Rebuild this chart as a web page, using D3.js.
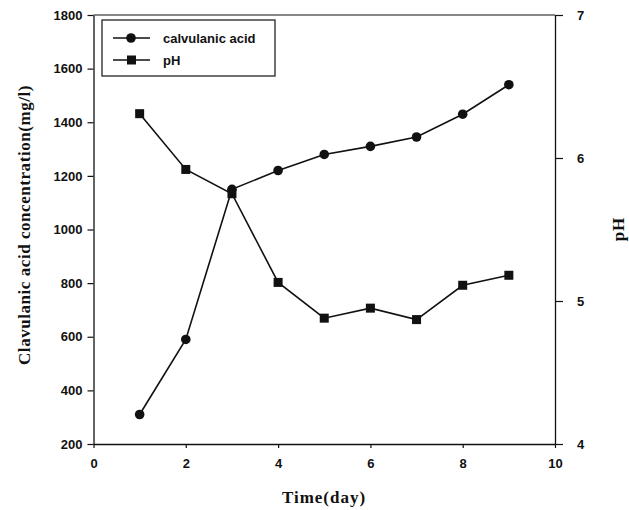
<!DOCTYPE html>
<html>
<head>
<meta charset="utf-8">
<script src="https://cdn.jsdelivr.net/npm/d3@7"></script>
<style>
  body { margin: 0; background: #fff; }
  .tick text { font-family: "Liberation Sans", Arial, sans-serif; font-size: 13px; font-weight: bold; fill: #111; }
  .title { font-family: "Liberation Serif", "Times New Roman", serif; font-size: 17px; font-weight: bold; fill: #111; letter-spacing: 1px; }
  .leg { font-family: "Liberation Sans", Arial, sans-serif; font-size: 13px; font-weight: bold; fill: #111; }
</style>
</head>
<body>
<svg width="629" height="510"></svg>
<script>
var days = [1, 2, 3, 4, 5, 6, 7, 8, 9];
var acid = [310, 590, 1150, 1220, 1280, 1310, 1345, 1430, 1540];
var pH = [6.31, 5.92, 5.75, 5.13, 4.88, 4.95, 4.87, 5.11, 5.18];
var xTicks = [0, 2, 4, 6, 8, 10];
var acidTicks = [200, 400, 600, 800, 1000, 1200, 1400, 1600, 1800];
var pHTicks = [4, 5, 6, 7];

var svg = d3.select("svg");

var x = d3.scaleLinear().domain([0, 10]).range([93.5, 555]);
var yL = d3.scaleLinear().domain([200, 1800]).range([444, 15]);
var yR = d3.scaleLinear().domain([4, 7]).range([444, 15]);

// frame top line
svg.append("line")
  .attr("x1", x(0)).attr("x2", x(10))
  .attr("y1", yL(1800)).attr("y2", yL(1800))
  .attr("stroke", "#111").attr("stroke-width", 1.2);

var xAxis = svg.append("g")
  .attr("transform", "translate(0," + yL(200) + ")")
  .call(d3.axisBottom(x).tickValues(xTicks).tickFormat(d3.format("d"))
    .tickSize(4).tickPadding(11).tickSizeOuter(0));

var leftAxis = svg.append("g")
  .attr("transform", "translate(" + x(0) + ",0)")
  .call(d3.axisLeft(yL).tickValues(acidTicks).tickFormat(d3.format("d"))
    .tickSize(6).tickPadding(5).tickSizeOuter(0));

var rightAxis = svg.append("g")
  .attr("transform", "translate(" + x(10) + ",0)")
  .call(d3.axisRight(yR).tickValues(pHTicks).tickFormat(d3.format("d"))
    .tickSize(8).tickPadding(14).tickSizeOuter(0));

svg.selectAll(".domain").attr("stroke", "#111").attr("stroke-width", 1.3);
svg.selectAll(".tick line").attr("stroke", "#111").attr("stroke-width", 1.2);

// acid series
var line1 = d3.line()
  .x(function(d, i) { return x(days[i]); })
  .y(function(d) { return yL(d); });

svg.append("path")
  .datum(acid)
  .attr("d", line1)
  .attr("fill", "none")
  .attr("stroke", "#111")
  .attr("stroke-width", 1.6);

svg.selectAll(".acid-dot")
  .data(acid)
  .enter().append("circle")
    .attr("class", "acid-dot")
    .attr("cx", function(d, i) { return x(days[i]); })
    .attr("cy", function(d) { return yL(d); })
    .attr("r", 4.8)
    .attr("fill", "#111");

// pH series
var line2 = d3.line()
  .x(function(d, i) { return x(days[i]); })
  .y(function(d) { return yR(d); });

svg.append("path")
  .datum(pH)
  .attr("d", line2)
  .attr("fill", "none")
  .attr("stroke", "#111")
  .attr("stroke-width", 1.6);

svg.selectAll(".ph-sq")
  .data(pH)
  .enter().append("rect")
    .attr("class", "ph-sq")
    .attr("x", function(d, i) { return x(days[i]) - 4.5; })
    .attr("y", function(d) { return yR(d) - 4.5; })
    .attr("width", 9)
    .attr("height", 9)
    .attr("fill", "#111");

// legend
var legend = svg.append("g");
legend.append("rect")
  .attr("x", 102).attr("y", 20)
  .attr("width", 173).attr("height", 56)
  .attr("fill", "#fff")
  .attr("stroke", "#111").attr("stroke-width", 1.2);

var legItems = [
  { label: "calvulanic acid", shape: "circle", y: 38 },
  { label: "pH", shape: "square", y: 60 }
];

legItems.forEach(function(it) {
  legend.append("line")
    .attr("x1", 113).attr("x2", 150)
    .attr("y1", it.y).attr("y2", it.y)
    .attr("stroke", "#111").attr("stroke-width", 1.6);
  if (it.shape == "circle") {
    legend.append("circle").attr("cx", 131).attr("cy", it.y).attr("r", 4.8).attr("fill", "#111");
  } else {
    legend.append("rect").attr("x", 127).attr("y", it.y - 4.5).attr("width", 9).attr("height", 9).attr("fill", "#111");
  }
  legend.append("text")
    .attr("class", "leg")
    .attr("x", 163).attr("y", it.y + 4.5)
    .text(it.label);
});

// axis titles
svg.append("text")
  .attr("class", "title")
  .attr("x", 324).attr("y", 503)
  .attr("text-anchor", "middle")
  .text("Time(day)");

svg.append("text")
  .attr("class", "title")
  .attr("transform", "translate(30," + 225 + ") rotate(-90)")
  .attr("text-anchor", "middle")
  .style("letter-spacing", "0.55px")
  .text("Clavulanic acid concentration(mg/l)");

svg.append("text")
  .attr("class", "title")
  .attr("transform", "translate(624," + 229 + ") rotate(-90)")
  .attr("text-anchor", "middle")
  .text("pH");
</script>
</body>
</html>
